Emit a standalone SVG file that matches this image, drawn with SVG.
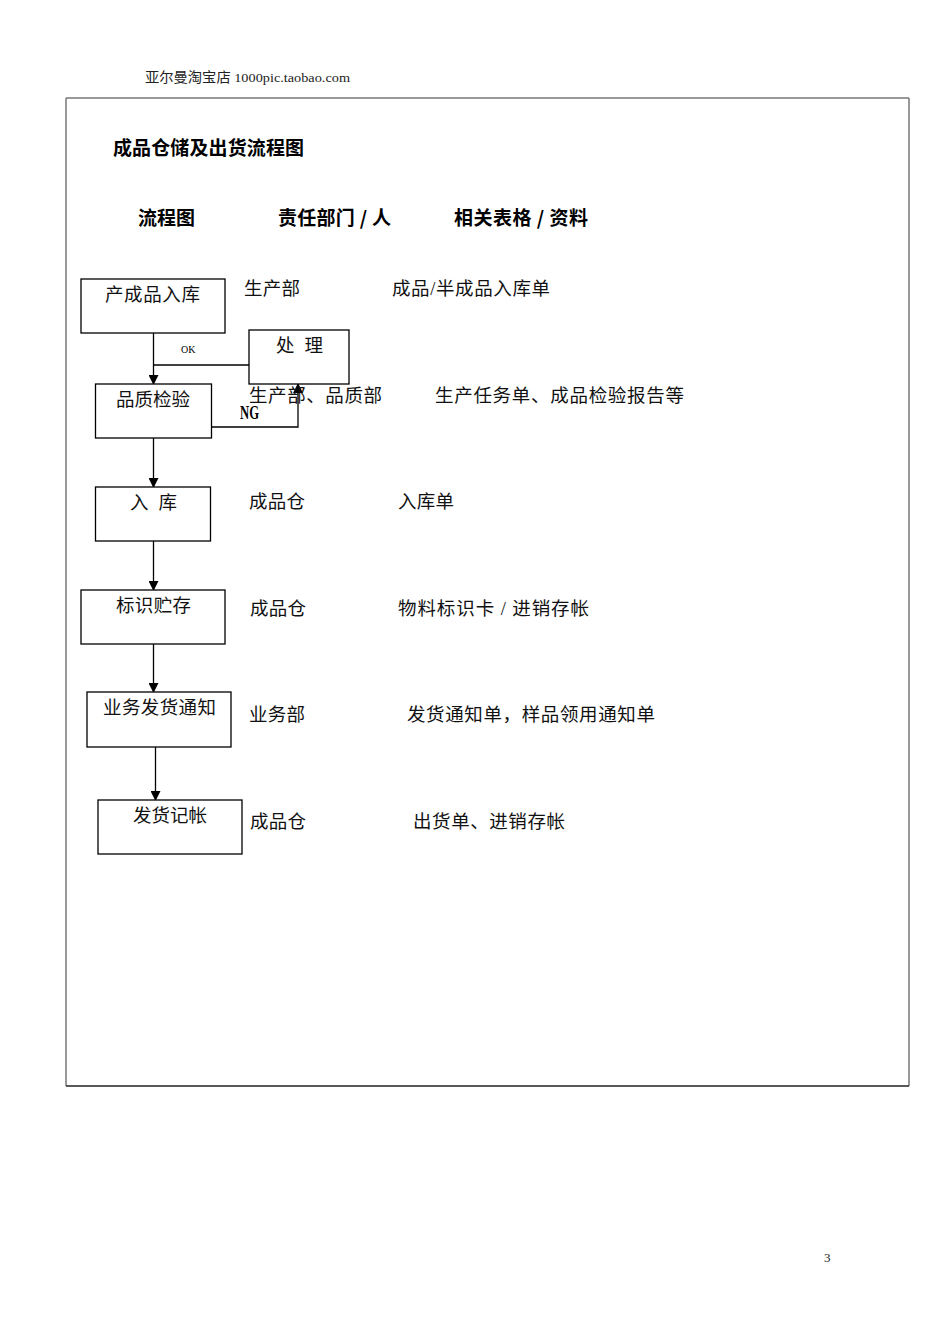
<svg xmlns="http://www.w3.org/2000/svg" width="950" height="1344" viewBox="0 0 950 1344">
<style>
.box{fill:#fff;stroke:#000;stroke-width:1.3}
.t{font-family:"Liberation Serif","Noto Sans CJK SC",serif;font-size:18.5px;fill:#111}
.h{font-family:"Noto Sans CJK SC",sans-serif;font-size:19px;font-weight:bold;fill:#000}
.c{stroke:#000;stroke-width:1.3;fill:none}
</style>
<defs>
<marker id="ar" markerWidth="10" markerHeight="10" refX="9" refY="5" orient="auto" markerUnits="userSpaceOnUse">
<path d="M0,0 L10,5 L0,10 z" fill="#000"/>
</marker>
</defs>
<rect width="950" height="1344" fill="#fff"/>
<text x="145" y="82" font-family="Liberation Serif,Noto Sans CJK SC,serif" font-size="13.5" fill="#222" textLength="205" lengthAdjust="spacingAndGlyphs">亚尔曼淘宝店 1000pic.taobao.com</text>
<g id="frame">
<line x1="66" y1="98" x2="909" y2="98" stroke="#777" stroke-width="1.5"/>
<line x1="66" y1="98" x2="66" y2="1086" stroke="#777" stroke-width="1.5"/>
<line x1="909" y1="98" x2="909" y2="1086" stroke="#777" stroke-width="1.5"/>
<line x1="66" y1="1086" x2="909" y2="1086" stroke="#222" stroke-width="1.5"/>
</g>
<text class="h" x="113" y="155" textLength="191">成品仓储及出货流程图</text>
<text class="h" x="138" y="225" textLength="57">流程图</text>
<text class="h" x="278" y="225" textLength="113">责任部门 / 人</text>
<text class="h" x="454" y="225" textLength="134">相关表格 / 资料</text>

<g id="connectors">
<line class="c" x1="153.5" y1="333" x2="153.5" y2="384" marker-end="url(#ar)"/>
<line class="c" x1="153.5" y1="365" x2="249" y2="365"/>
<polyline class="c" points="211,427 298,427 298,384" marker-end="url(#ar)"/>
<line class="c" x1="153.5" y1="438" x2="153.5" y2="487" marker-end="url(#ar)"/>
<line class="c" x1="153.5" y1="541" x2="153.5" y2="590" marker-end="url(#ar)"/>
<line class="c" x1="153.5" y1="644" x2="153.5" y2="692" marker-end="url(#ar)"/>
<line class="c" x1="155.5" y1="747" x2="155.5" y2="800" marker-end="url(#ar)"/>
<text x="181" y="353" font-family="Liberation Serif,serif" font-size="10" fill="#000">OK</text>
<text x="240" y="419" font-family="Liberation Serif,serif" font-size="18" font-weight="bold" fill="#000" textLength="19" lengthAdjust="spacingAndGlyphs">NG</text>
</g>

<g id="n1"><rect class="box" x="81" y="279" width="144" height="54"/><text class="t" x="105" y="301" textLength="95">产成品入库</text></g>
<g id="n2"><rect class="box" x="249" y="330" width="100" height="54"/><text class="t" x="276" y="352" textLength="47">处  理</text></g>
<g id="n3"><rect class="box" x="95.5" y="384" width="116" height="54"/><text class="t" x="116" y="406" textLength="74">品质检验</text></g>
<g id="n4"><rect class="box" x="95.5" y="487" width="115" height="54"/><text class="t" x="130" y="509" textLength="47">入  库</text></g>
<g id="n5"><rect class="box" x="81" y="590" width="144" height="54"/><text class="t" x="116" y="612" textLength="75">标识贮存</text></g>
<g id="n6"><rect class="box" x="87" y="692" width="144" height="55"/><text class="t" x="103" y="714" textLength="113">业务发货通知</text></g>
<g id="n7"><rect class="box" x="98" y="800" width="144" height="54"/><text class="t" x="133" y="822" textLength="74">发货记帐</text></g>

<g id="labels">
<text class="t" x="244" y="295" textLength="56">生产部</text>
<text class="t" x="392" y="295" textLength="158">成品/半成品入库单</text>
<text class="t" x="249" y="402" textLength="133">生产部、品质部</text>
<text class="t" x="435" y="402" textLength="249">生产任务单、成品检验报告等</text>
<text class="t" x="249" y="508" textLength="56">成品仓</text>
<text class="t" x="398" y="508" textLength="56">入库单</text>
<text class="t" x="250" y="615" textLength="56">成品仓</text>
<text class="t" x="398" y="615" textLength="191">物料标识卡 / 进销存帐</text>
<text class="t" x="249" y="721" textLength="56">业务部</text>
<text class="t" x="407" y="721" textLength="248">发货通知单，样品领用通知单</text>
<text class="t" x="250" y="828" textLength="56">成品仓</text>
<text class="t" x="413" y="828" textLength="152">出货单、进销存帐</text>
</g>
<text x="824" y="1262" font-family="Liberation Serif,serif" font-size="13" fill="#222">3</text>
</svg>
